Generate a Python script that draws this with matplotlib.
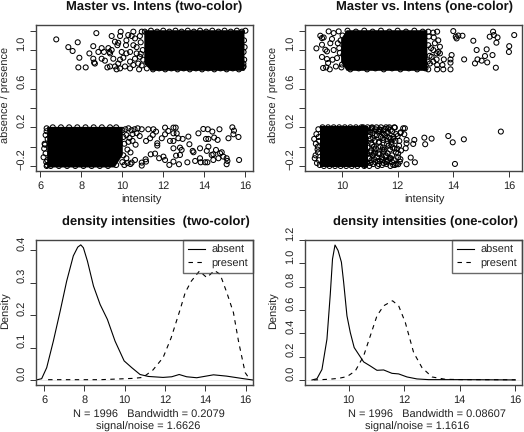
import matplotlib
matplotlib.use("Agg")
import matplotlib.pyplot as plt
from matplotlib.transforms import ScaledTranslation

plt.rcParams['font.family'] = ['Liberation Sans', 'DejaVu Sans']
plt.rcParams['text.hinting'] = 'no_hinting'
plt.rcParams['text.hinting_factor'] = 1

W, H = 524, 432
INK = '#222222'

# ---- two-colour scatter
# the blobs are too dense to read single points, so only their outline is kept
two_pres_blob_x = [11.05, 11.4, 15.95]
two_pres_blob_lo = [0.86, 0.79, 0.79]
two_pres_blob_hi = [1.21, 1.21, 1.21]
two_abs_blob_x = [6.3, 9.6, 10.0]
two_abs_blob_lo = [-0.21, -0.21, -0.08]
two_abs_blob_hi = [0.21, 0.21, 0.21]

two_pres_x = [6.77, 7.36, 7.57, 7.82, 7.90, 7.85, 8.21, 8.39, 8.58, 8.73, 8.58, 8.66, 8.62, 8.83, 8.99,
              8.99, 9.15, 9.40, 9.27, 9.10, 9.32, 9.40, 9.48, 9.37, 9.48, 9.56, 9.64, 9.80, 9.89, 9.92,
              9.76, 9.64, 9.80, 9.89, 10.05, 9.97, 10.2, 10.2, 10.29, 10.18, 10.38, 10.54, 10.62, 10.46,
              10.54, 10.38, 10.62, 10.54, 10.38, 10.70, 10.78, 9.72, 9.89, 10.13, 10.86, 10.70, 10.86,
              10.95, 10.9, 11.0, 10.82, 10.95, 11.02, 10.9,
              11.1, 11.4, 11.7, 12.0, 12.3, 12.6, 12.9, 13.2, 13.5, 13.8, 14.1, 14.4, 14.7, 15.0, 15.3, 15.6, 15.85,
              11.2, 11.5, 11.8, 12.1, 12.4, 12.7, 13.0, 13.3, 13.6, 13.9, 14.2, 14.5, 14.8, 15.1, 15.4, 15.7, 15.9,
              16.02, 15.95, 15.98, 15.93, 15.96, 15.92, 15.93]
two_pres_y = [1.11, 1.03, 0.99, 1.08, 0.92, 0.82, 0.82, 0.965, 1.04, 1.175, 0.91, 0.86, 0.87, 0.98, 1.02,
              0.91, 0.89, 0.83, 0.82, 0.98, 1.02, 0.965, 1.145, 0.98, 1.0, 0.91, 1.086, 1.075, 1.145, 1.19,
              1.05, 0.83, 0.86, 0.90, 0.92, 0.98, 0.965, 1.10, 1.155, 1.05, 0.88, 1.19, 1.12, 1.145,
              1.05, 0.98, 0.91, 0.845, 0.81, 0.965, 0.86, 0.80, 0.81, 0.83, 1.145, 1.03, 0.93,
              1.19, 1.08, 1.0, 0.80, 0.84, 0.9, 0.96,
              1.19, 1.2, 1.19, 1.2, 1.19, 1.2, 1.19, 1.2, 1.19, 1.2, 1.19, 1.2, 1.19, 1.2, 1.19, 1.2, 1.19,
              0.81, 0.8, 0.81, 0.8, 0.81, 0.8, 0.81, 0.8, 0.81, 0.8, 0.81, 0.8, 0.81, 0.8, 0.81, 0.8, 0.82,
              1.2, 1.1, 1.03, 0.98, 0.9, 0.86, 0.83]

two_abs_x = [11.27, 11.52, 11.65, 11.49, 11.36, 11.16, 12.09, 12.50, 12.61, 12.25, 12.09, 11.93, 12.50, 12.66,
             12.74, 12.50, 12.33, 12.95, 13.23, 13.72, 13.96, 14.18, 14.40, 14.75, 15.38, 15.46, 15.43, 15.68,
             15.19, 14.49, 14.66, 14.21, 14.09, 11.71, 11.71, 13.28, 12.50, 12.82, 12.90, 13.44, 13.48, 13.80,
             14.21, 14.13, 14.37, 14.58, 14.78, 14.86, 14.94, 14.45, 11.39, 11.60, 12.01, 11.80, 12.09, 11.14,
             10.95, 11.16, 10.95, 10.62, 10.46, 12.63, 12.82, 12.50, 12.30, 12.77, 13.18, 13.56, 13.80, 13.83,
             14.05, 14.16, 14.45, 14.70, 15.10, 15.14, 15.10, 15.71,
             10.0, 10.15, 10.3, 10.45, 10.6, 10.75, 10.95, 10.05, 10.2, 10.35, 10.5, 10.7, 10.85, 10.1, 10.3,
             10.5, 10.65, 10.25, 10.4, 10.05, 10.2, 10.0, 10.1, 10.25, 10.4,
             6.2, 6.18, 6.25, 6.15, 6.22, 6.3, 6.28, 6.32, 6.25, 6.3, 6.35, 6.33, 6.3,
             6.5, 6.9, 7.3, 7.7, 8.1, 8.5, 8.9, 9.3, 9.7, 6.6, 7.0, 7.4, 7.8, 8.2, 8.6, 9.0, 9.4, 9.7]
two_abs_y = [0.18, 0.18, 0.156, 0.121, 0.087, 0.059, 0.197, 0.197, 0.197, 0.162, 0.128, 0.087, 0.138, 0.138,
             0.087, 0.059, 0.059, 0.080, 0.104, 0.138, 0.183, 0.18, 0.156, 0.18, 0.2, 0.166, 0.128, 0.1,
             0.087, 0.094, 0.07, 0.08, 0.08, 0.035, 0.011, 0.025, -0.017, -0.01, -0.034, -0.044, -0.058, -0.017,
             0.0, -0.044, -0.086, -0.034, -0.069, -0.058, -0.103, -0.079, -0.079, -0.072, -0.103, -0.12, -0.138, -0.131,
             -0.165, -0.155, -0.196, -0.138, -0.165, -0.093, -0.086, -0.155, -0.189, -0.182, -0.162, -0.148, -0.12, -0.162,
             -0.162, -0.162, -0.138, -0.12, -0.12, -0.148, -0.182, -0.138,
             0.17, 0.18, 0.19, 0.17, 0.18, 0.19, 0.18, 0.1, 0.12, 0.09, 0.13, 0.14, 0.11, 0.03, 0.05,
             0.06, 0.02, -0.03, -0.06, -0.09, -0.12, -0.16, -0.19, -0.17, -0.18,
             0.03, -0.02, -0.07, -0.11, 0.02, 0.16, -0.16, -0.19, 0.12, 0.19, 0.08, -0.14, -0.2,
             -0.2, -0.2, -0.2, -0.2, -0.2, -0.2, -0.2, -0.2, -0.19, 0.2, 0.2, 0.2, 0.2, 0.2, 0.2, 0.2, 0.2, 0.2]

# ---- one-colour scatter
one_pres_blob_x = [9.95, 10.15, 13.05]
one_pres_blob_lo = [0.88, 0.79, 0.79]
one_pres_blob_hi = [1.12, 1.21, 1.21]
one_abs_blob_x = [9.2, 10.3, 10.95]
one_abs_blob_lo = [-0.21, -0.21, -0.21]
one_abs_blob_hi = [0.21, 0.21, 0.21]

one_pres_x = [14.0, 14.09, 14.12, 14.18, 14.33, 14.72, 15.43, 15.46, 15.31, 15.59, 15.55, 16.19, 16.01, 16.0,
              14.84, 15.2, 15.41, 15.14, 15.02, 14.87, 14.78, 15.22, 15.53, 14.39, 13.94, 13.90, 13.90, 13.90,
              13.66, 13.61, 13.64, 13.42, 13.42, 13.40, 13.52, 13.46, 13.28, 13.4, 13.52, 13.42, 13.28, 13.10,
              13.46, 13.34, 13.22, 13.16, 13.28, 13.10, 13.3, 13.2,
              9.08, 9.22, 9.28, 9.34, 9.28, 9.28, 9.32, 9.43, 9.56, 9.46, 9.5, 9.46, 9.40, 9.52, 9.58, 9.70, 9.64,
              9.70, 9.66, 9.78, 9.88, 9.82, 9.90, 10.0, 9.95, 10.05, 9.85, 9.98, 10.02, 9.92,
              10.2, 10.5, 10.8, 11.1, 11.4, 11.7, 12.0, 12.3, 12.6, 12.9, 10.3, 10.6, 10.9, 11.2, 11.5, 11.8, 12.1,
              12.4, 12.7, 13.0, 13.1, 13.15, 13.08, 13.12]
one_pres_y = [1.196, 1.138, 1.12, 1.15, 1.148, 1.096, 1.19, 1.155, 1.138, 1.13, 1.076, 1.155, 1.04, 0.98,
              1.0, 1.007, 0.948, 0.938, 0.89, 0.903, 0.862, 0.872, 0.817, 0.903, 0.948, 0.903, 0.869, 0.80,
              0.903, 0.845, 0.80, 0.845, 0.80, 0.903, 1.034, 0.98, 1.0, 0.965, 0.965, 1.19, 1.18, 1.19,
              1.10, 1.07, 0.93, 0.86, 0.88, 0.80, 1.13, 1.02,
              1.017, 1.148, 1.124, 1.13, 1.055, 0.928, 0.814, 0.82, 0.80, 0.907, 0.866, 0.986, 1.003, 1.193, 1.07, 1.175, 1.114,
              1.0, 0.9, 0.83, 1.193, 0.917, 1.02, 0.85, 1.1, 0.95, 1.07, 0.82, 1.15, 0.97,
              1.2, 1.19, 1.2, 1.19, 1.2, 1.19, 1.2, 1.19, 1.2, 1.19, 0.8, 0.81, 0.8, 0.81, 0.8, 0.81, 0.8,
              0.81, 0.8, 0.81, 1.05, 0.94, 0.88, 1.14]

one_abs_x = [15.71, 14.38, 13.98, 13.82, 14.06, 13.22, 12.96, 12.99, 12.62, 12.47, 12.32, 12.60, 12.56, 12.29,
             12.32, 12.32, 12.26, 12.2, 12.11, 12.24, 12.06, 12.02, 12.08, 12.02, 11.84, 11.9, 11.75, 11.54, 11.39, 11.10,
             9.05, 9.0, 9.08, 9.02, 9.1, 9.12, 9.06, 9.15, 9.18, 9.14, 9.16, 9.2, 9.17, 9.13,
             9.3, 9.5, 9.7, 9.9, 10.1, 10.3, 10.5, 10.7, 9.35, 9.55, 9.75, 9.95, 10.15, 10.35, 10.55, 10.8,
             10.75, 10.9, 11.05, 11.2, 11.35, 11.5, 11.65, 11.8, 11.95, 12.1,
             10.8, 10.95, 11.1, 11.25, 11.4, 11.55, 11.7, 11.85, 12.0,
             10.72, 10.88, 11.02, 11.18, 11.32, 11.48, 11.62, 11.78, 11.92, 12.05,
             10.78, 10.92, 11.08, 11.22, 11.38, 11.52, 11.68, 11.82, 11.98,
             10.74, 10.9, 11.04, 11.2, 11.34, 11.5, 11.64, 11.8, 11.94, 12.12,
             10.8, 10.96, 11.1, 11.26, 11.42, 11.56, 11.72, 11.86, 12.02,
             10.75, 10.9, 11.06, 11.2, 11.36, 11.5, 11.66, 11.8, 11.96, 12.1,
             10.82, 10.98, 11.12, 11.28, 11.44, 11.6, 11.74, 11.9,
             10.76, 10.92, 11.08, 11.24, 11.4, 11.58, 11.7, 11.88,
             11.0, 11.12, 11.3, 11.46, 11.6, 11.75, 11.05, 11.15, 11.33, 11.47, 11.63, 11.78,
             11.03, 11.17, 11.3, 11.45, 11.58, 11.73, 11.88, 11.0, 11.14, 11.28, 11.44, 11.6,
             11.76, 11.02, 11.16, 11.32, 11.46, 11.62, 11.04, 11.18, 11.34, 11.5, 11.66, 11.84]
one_abs_y = [0.156, 0.076, 0.045, 0.11, -0.179, 0.083, 0.093, 0.025, -0.162, -0.113, -0.182, 0.07, 0.028, -0.017,
             0.035, 0.07, 0.19, 0.19, 0.149, 0.128, 0.059, -0.069, -0.155, -0.182, -0.189, 0.197, 0.173, 0.183, 0.173, 0.19,
             -0.09, 0.08, 0.13, -0.12, -0.17, -0.03, 0.03, 0.18, 0.06, -0.06, 0.1, -0.19, -0.14, 0.0,
             0.2, 0.2, 0.2, 0.2, 0.2, 0.2, 0.2, 0.2, -0.2, -0.2, -0.2, -0.2, -0.2, -0.2, -0.2, -0.2,
             0.19, 0.17, 0.19, 0.18, 0.16, 0.17, 0.15, 0.16, 0.13, 0.14,
             0.13, 0.11, 0.14, 0.12, 0.1, 0.12, 0.09, 0.1, 0.11,
             0.07, 0.05, 0.08, 0.06, 0.04, 0.07, 0.03, 0.05, 0.06, 0.01,
             0.01, -0.01, 0.02, -0.02, 0.0, -0.03, 0.01, -0.01, -0.02,
             -0.05, -0.07, -0.04, -0.06, -0.08, -0.05, -0.07, -0.09, -0.06, -0.04,
             -0.1, -0.12, -0.09, -0.11, -0.13, -0.1, -0.12, -0.14, -0.11,
             -0.15, -0.17, -0.14, -0.16, -0.15, -0.17, -0.14, -0.16, -0.18, -0.13,
             -0.19, -0.2, -0.18, -0.2, -0.19, -0.18, -0.2, -0.19,
             0.2, 0.2, 0.2, 0.2, 0.2, 0.2, 0.2, 0.2,
             0.15, 0.09, 0.155, 0.09, 0.14, 0.08, 0.04, 0.0, 0.05, -0.01, 0.06, 0.02,
             -0.06, -0.03, -0.07, -0.03, -0.09, -0.03, -0.02, -0.12, -0.07, -0.15, -0.11, -0.16,
             -0.12, -0.17, -0.13, -0.18, -0.14, -0.15, 0.17, 0.12, 0.18, 0.13, 0.19, 0.08]

# ---- density curves
two_abs_dx = [5.6, 5.88, 6.13, 6.46, 6.8, 7.12, 7.45, 7.67, 7.82, 7.95, 8.15, 8.45, 8.78, 9.14, 9.52, 9.97,
              10.35, 10.76, 11.17, 11.9, 12.33, 12.7, 13.07, 13.57, 14.4, 15.05, 15.9, 16.36]
two_abs_dy = [0.0, 0.004, 0.038, 0.12, 0.213, 0.305, 0.383, 0.41, 0.417, 0.408, 0.367, 0.29, 0.233, 0.187, 0.12, 0.059,
              0.038, 0.017, 0.011, 0.008, 0.01, 0.017, 0.01, 0.007, 0.016, 0.012, 0.004, 0.0]
two_pres_dx = [6.2, 8.8, 10.4, 10.9, 11.4, 11.9, 12.3, 12.75, 13.0, 13.3, 13.7, 14.07, 14.45, 14.73, 15.06, 15.39,
               15.64, 15.97, 16.2]
two_pres_dy = [0.001, 0.001, 0.005, 0.008, 0.031, 0.069, 0.13, 0.218, 0.27, 0.305, 0.336, 0.316, 0.338, 0.326, 0.27, 0.208,
               0.12, 0.023, 0.002]
one_abs_dx = [8.68, 8.86, 9.04, 9.22, 9.34, 9.42, 9.51, 9.62, 9.74, 9.82, 9.94, 10.06, 10.2, 10.36, 10.54, 10.78,
              11.02, 11.26, 11.56, 11.8, 12.1, 12.46, 12.88, 14.08, 16.0]
one_abs_dy = [0.0, 0.011, 0.09, 0.35, 0.736, 1.037, 1.157, 1.11, 1.01, 0.84, 0.55, 0.407, 0.278, 0.22, 0.155, 0.12,
              0.083, 0.086, 0.057, 0.052, 0.026, 0.009, 0.003, 0.003, 0.0005]
one_pres_dx = [8.74, 9.28, 9.64, 9.94, 10.24, 10.54, 10.78, 11.02, 11.26, 11.58, 11.8, 12.04, 12.34, 12.64, 13.0, 13.48,
               14.08, 16.0]
one_pres_dy = [0.0, 0.006, 0.014, 0.029, 0.077, 0.206, 0.378, 0.55, 0.636, 0.679, 0.636, 0.493, 0.235, 0.106, 0.026, 0.006,
               0.003, 0.002]

scatter_yticks = [-0.2, 0.0, 0.2, 0.4, 0.6, 0.8, 1.0, 1.2]
scatter_ylabels = ['\u22120.2', '', '0.2', '', '0.6', '', '1.0', '']

fig = plt.figure(figsize=(W / 100, H / 100), dpi=100)


def panel(left, right, top, bottom, xlim, ylim, xticks, yticks, ylabels, title, tx, ty):
    ax = fig.add_axes([left / W, 1 - bottom / H, (right - left) / W, (bottom - top) / H])
    ax.set_xlim(xlim)
    ax.set_ylim(ylim)
    ax.set_xticks(xticks)
    ax.set_xticklabels([str(t) for t in xticks])
    ax.set_yticks(yticks)
    ax.set_yticklabels(ylabels, rotation=90, va='center')
    ax.tick_params(length=4, width=0.7, labelsize=7.6, color='#333333', labelcolor=INK, pad=3)
    # the y labels sit a few pixels above their ticks in the original
    up = ScaledTranslation(0, 7 / 100, fig.dpi_scale_trans)
    for lab in ax.get_yticklabels():
        lab.set_transform(lab.get_transform() + up)
    for s in ax.spines.values():
        s.set_linewidth(1.0)
        s.set_color('#444444')
    fig.text(tx / W, 1 - ty / H, title, ha='center', va='center', fontsize=9.6,
             fontweight='bold', color='#111111')
    return ax


def txt(x, y, s, rotation=0):
    fig.text(x / W, 1 - y / H, s, ha='center', va='center', fontsize=7.6, color=INK, rotation=rotation)


def dots(ax, x, y):
    ax.scatter(x, y, s=13, facecolors='none', edgecolors='black', linewidths=0.75, clip_on=False)


def blob(ax, x, lo, hi):
    ax.fill_between(x, lo, hi, color='black', linewidth=0)


ax1 = panel(36, 253, 25, 171, (5.78, 16.39), (-0.252, 1.259), [6, 8, 10, 12, 14, 16],
            scatter_yticks, scatter_ylabels, 'Master vs. Intens (two-color)', 154, 7)
blob(ax1, two_pres_blob_x, two_pres_blob_lo, two_pres_blob_hi)
blob(ax1, two_abs_blob_x, two_abs_blob_lo, two_abs_blob_hi)
dots(ax1, two_pres_x, two_pres_y)
dots(ax1, two_abs_x, two_abs_y)
txt(141, 200, 'intensity')
txt(6, 95, 'absence / presence', 90)

ax2 = panel(305, 522, 25, 171, (8.67, 16.47), (-0.252, 1.259), [10, 12, 14, 16],
            scatter_yticks, scatter_ylabels, 'Master vs. Intens (one-color)', 424, 7)
blob(ax2, one_pres_blob_x, one_pres_blob_lo, one_pres_blob_hi)
blob(ax2, one_abs_blob_x, one_abs_blob_lo, one_abs_blob_hi)
dots(ax2, one_pres_x, one_pres_y)
dots(ax2, one_abs_x, one_abs_y)
txt(424, 200, 'intensity')
txt(274, 95, 'absence / presence', 90)


def density(ax, ax_x, ab_y, pr_x, pr_y):
    ax.axhline(0, color='0.9', linewidth=0.6, zorder=1)
    ax.plot(ax_x, ab_y, color='black', linewidth=0.8, label='absent')
    ax.plot(pr_x, pr_y, color='black', linewidth=0.8, linestyle=(0, (4, 4)), label='present')
    # no fill on the box: the dashed curve shows through it
    leg = ax.legend(loc='upper right', borderaxespad=0, fancybox=False, facecolor='none', framealpha=None,
                    fontsize=7.6, handlelength=1.6, handletextpad=0.65, borderpad=0.45, labelspacing=0.3,
                    edgecolor='#444444', labelcolor=INK)
    leg.get_frame().set_linewidth(1.0)


ax3 = panel(36, 253, 240, 385, (5.60, 16.36), (-0.0154, 0.432), [6, 8, 10, 12, 14, 16],
            [0.0, 0.1, 0.2, 0.3, 0.4], ['0.0', '0.1', '0.2', '0.3', '0.4'],
            'density intensities  (two-color)', 156, 222)
density(ax3, two_abs_dx, two_abs_dy, two_pres_dx, two_pres_dy)
txt(149, 415, 'N = 1996   Bandwidth = 0.2079')
txt(148, 427, 'signal/noise = 1.6626')
txt(6, 311, 'Density', 90)

ax4 = panel(305, 522, 240, 385, (8.43, 16.24), (-0.043, 1.2), [10, 12, 14, 16],
            [0.0, 0.2, 0.4, 0.6, 0.8, 1.0, 1.2], ['0.0', '0.2', '0.4', '0.6', '0.8', '1.0', '1.2'],
            'density intensities (one-color)', 425, 222)
density(ax4, one_abs_dx, one_abs_dy, one_pres_dx, one_pres_dy)
txt(427, 415, 'N = 1996   Bandwidth = 0.08607')
txt(417, 427, 'signal/noise = 1.1616')
txt(274, 311, 'Density', 90)

fig.savefig('out.png', dpi=100)
